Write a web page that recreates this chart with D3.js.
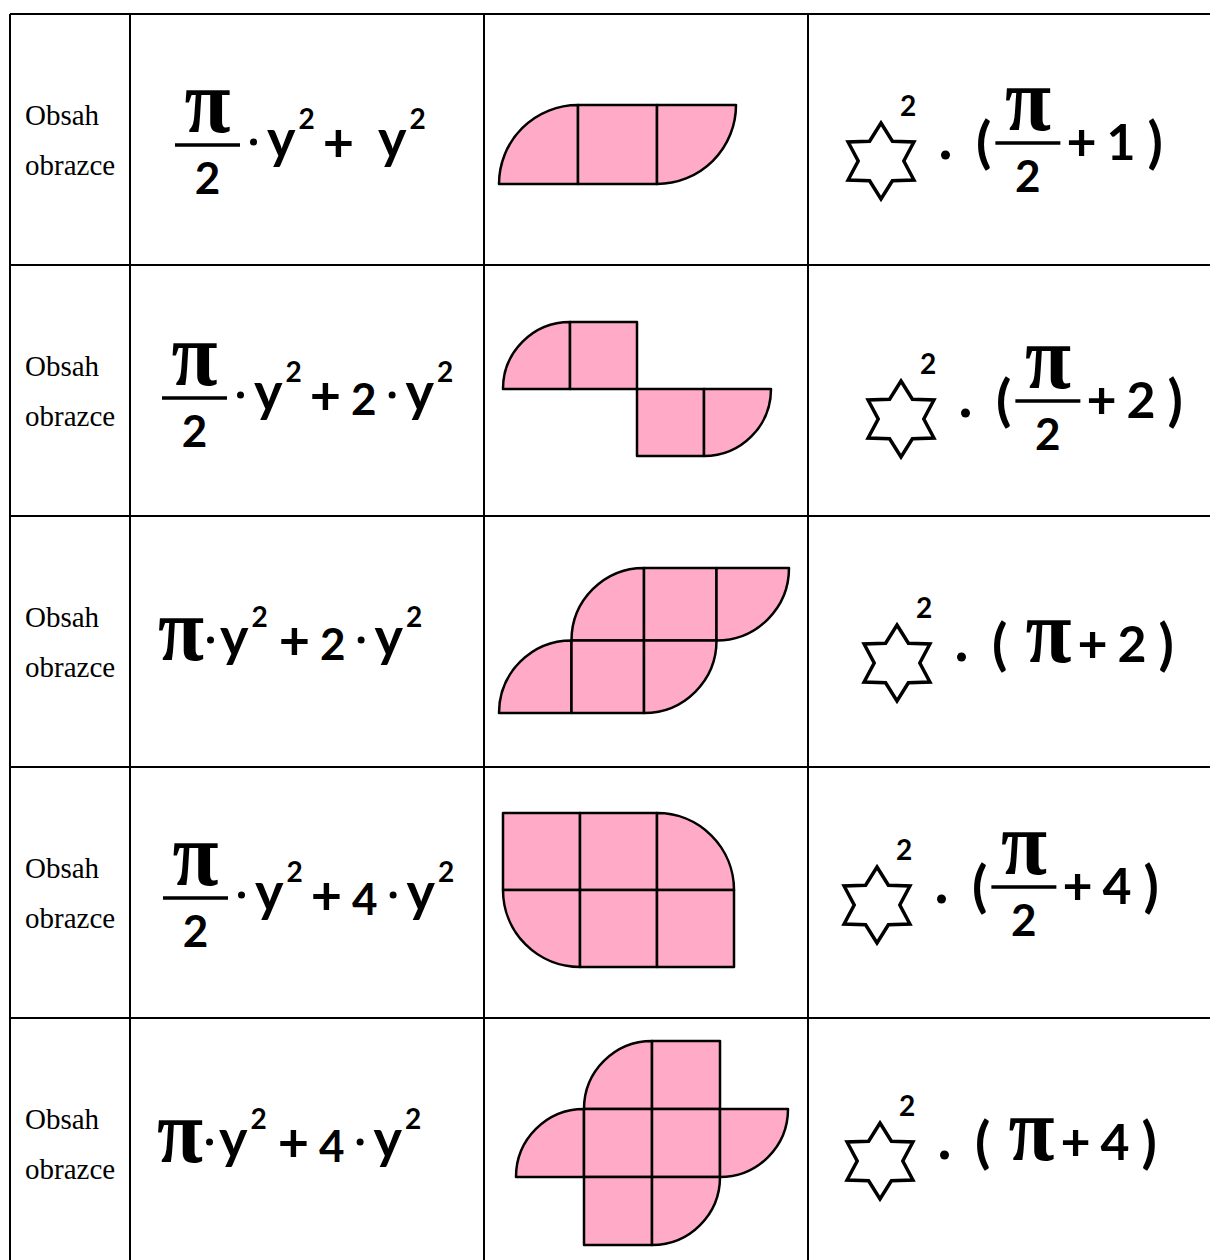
<!DOCTYPE html>
<html><head><meta charset="utf-8">
<script src="https://cdn.jsdelivr.net/npm/d3@7"></script>
<style>html,body{margin:0;padding:0;background:#fff;} svg{display:block}</style>
</head><body><svg id="c" width="1210" height="1260"></svg>
<script>
// ---------- data ----------
const rowLabels = [["Obsah","obrazce"],["Obsah","obrazce"],["Obsah","obrazce"],["Obsah","obrazce"],["Obsah","obrazce"]];
const areaFormulas = [
  ["π/2","·","y²","+","_","y²"],
  ["π/2","·","y²","+","2","·","y²"],
  ["π","·","y²","+","2","·","y²"],
  ["π/2","·","y²","+","4","·","y²"],
  ["π","·","y²","+","4","·","y²"]
];
const starFormulas = [
  ["☆²","•","(","π/2","+","1",")"],
  ["☆²","•","(","π/2","+","2",")"],
  ["☆²","•","(","π","+","2",")"],
  ["☆²","•","(","π/2","+","4",")"],
  ["☆²","•","(","π","+","4",")"]
];
// shape cells: [column, row, kind]  kind: sq = square, tl/tr/bl/br = quarter disc with arc at that corner
const shapeCells = [
  [[0,0,"tl"],[1,0,"sq"],[2,0,"br"]],
  [[0,0,"tl"],[1,0,"sq"],[2,1,"sq"],[3,1,"br"]],
  [[1,0,"tl"],[2,0,"sq"],[3,0,"br"],[0,1,"tl"],[1,1,"sq"],[2,1,"br"]],
  [[0,0,"sq"],[1,0,"sq"],[2,0,"tr"],[0,1,"bl"],[1,1,"sq"],[2,1,"sq"]],
  [[1,0,"tl"],[2,0,"sq"],[0,1,"tl"],[1,1,"sq"],[2,1,"sq"],[3,1,"br"],[1,2,"sq"],[2,2,"br"]]
];

// ---------- layout ----------
const svg = d3.select("#c");
const W = 1210, H = 1260;
const colEdges = [10,130,484,808];
const rowScale = d3.scaleLinear().domain([0,5]).range([14,1269]);
const PINK = "#ffabc8";
const SANS = "Lato, 'Open Sans', 'DejaVu Sans', sans-serif";
const SERIF = "'Liberation Serif', 'Times New Roman', serif";

// grid
const grid = svg.append("g").attr("stroke","#000").attr("stroke-width",2);
d3.range(5).forEach(i => grid.append("line").attr("x1",colEdges[0]).attr("x2",W)
  .attr("y1",rowScale(i)).attr("y2",rowScale(i)));
colEdges.forEach(x => grid.append("line").attr("x1",x).attr("x2",x).attr("y1",rowScale(0)).attr("y2",H));

// labels
rowLabels.forEach((lab,i) => {
  const top = rowScale(i);
  lab.forEach((s,j) => svg.append("text").attr("x",25).attr("y",top+111+j*50)
    .attr("font-family",SERIF).attr("font-size",29).attr("fill","#000").text(s));
});

// shapes
const shapeLayout = [{x:499,y:105,s:79},{x:503,y:322,s:67},{x:499,y:568,s:72.5},{x:503,y:813,s:77},{x:516,y:1041,s:68}];
function cellPath(x0,y0,s,kind){
  const x1=x0+s, y1=y0+s, p=d3.path();
  if(kind==="sq"){ p.rect(x0,y0,s,s); }
  else if(kind==="tl"){ p.moveTo(x1,y1); p.lineTo(x0,y1); p.arc(x1,y1,s,Math.PI,1.5*Math.PI); p.closePath(); }
  else if(kind==="br"){ p.moveTo(x0,y0); p.lineTo(x1,y0); p.arc(x0,y0,s,0,0.5*Math.PI); p.closePath(); }
  else if(kind==="tr"){ p.moveTo(x0,y1); p.lineTo(x0,y0); p.arc(x0,y1,s,1.5*Math.PI,2*Math.PI); p.closePath(); }
  else if(kind==="bl"){ p.moveTo(x1,y0); p.lineTo(x1,y1); p.arc(x1,y0,s,0.5*Math.PI,Math.PI); p.closePath(); }
  return p.toString();
}
shapeCells.forEach((cells,i) => {
  const L = shapeLayout[i];
  const sx = d3.scaleLinear().domain([0,1]).range([L.x,L.x+L.s]);
  const sy = d3.scaleLinear().domain([0,1]).range([L.y,L.y+L.s]);
  svg.append("g").selectAll("path").data(cells).join("path")
    .attr("d",d => cellPath(sx(d[0]),sy(d[1]),L.s,d[2]))
    .attr("fill",PINK).attr("stroke","#000").attr("stroke-width",2.5).attr("stroke-linejoin","round");
});

// ---------- formula engine ----------
function txt(g,s,x,y,size,fam,anchor){
  return g.append("text").attr("x",x).attr("y",y).attr("font-family",fam).attr("font-size",size)
    .attr("font-weight",700).attr("fill","#000").attr("text-anchor",anchor||"start").text(s);
}
function piGlyph(g,x,y,anchor){
  const t = g.append("text").attr("x",0).attr("y",0).attr("font-family",SERIF).attr("font-size",84)
    .attr("font-weight",700).attr("fill","#000")
    .attr("text-anchor",anchor||"start").attr("transform",`translate(${x},${y}) scale(1,1.08)`).text("π");
  return t.node().getComputedTextLength();
}
function star(g,cx,cy,R){
  const pts = d3.range(12).map(i => [i*Math.PI/6, i%2 ? R*0.6 : R]);
  g.append("path").attr("transform",`translate(${cx},${cy})`)
    .attr("d",d3.lineRadial().curve(d3.curveLinearClosed)(pts))
    .attr("fill","#fff").attr("stroke","#000").attr("stroke-width",3.5).attr("stroke-linejoin","miter");
}
function drawFormula(g,tokens,x,B,col){
  const pad = col===2
    ? {"π/2":[0,0],"π":[0,0],"·":[10,10],"y²":[0,6],"+":[2,8],"_":[0,0],"digit":[2,2],"(":[0,0],")":[0,0]}
    : {"π/2":[4,6],"π":[18,6],"•":[22,26],"+":[0,10],"digit":[0,12],"(":[0,0],")":[0,0],"☆²":[0,0]};
  let prev = null;
  tokens.forEach(t => {
    const key = /^[0-9]$/.test(t) ? "digit" : t;
    let [pb,pa] = pad[key] || [0,0];
    if(col===2 && t==="·" && prev==="π"){ pb = 3; pa = 6; }
    if(col===2 && t==="y²" && tokens[0]==="π"){ pa = 9; }
    x += pb;
    let w = 0;
    if(t==="π/2"){
      const barW = 65, barY = B-17;
      g.append("rect").attr("x",x).attr("y",barY-1.75).attr("width",barW).attr("height",3.5).attr("fill","#000");
      piGlyph(g,x+barW/2,barY-13,"middle");
      txt(g,"2",x+barW/2,barY+49,44,SANS,"middle");
      w = barW;
    } else if(t==="π"){
      w = piGlyph(g,x,B);
    } else if(t==="·"){
      g.append("circle").attr("cx",x+3.5).attr("cy",B-20).attr("r",3.5).attr("fill","#000"); w = 7;
    } else if(t==="•"){
      g.append("circle").attr("cx",x+4.5).attr("cy",B-5).attr("r",4.5).attr("fill","#000"); w = 9;
    } else if(t==="y²"){
      const wy = txt(g,"y",x,B-4,54,SANS).node().getComputedTextLength();
      const ws = txt(g,"2",x+wy+3,B-33,28,SANS).node().getComputedTextLength();
      w = wy+3+ws;
    } else if(t==="+"){
      w = txt(g,"+",x,B,col===2?54:52,SANS).node().getComputedTextLength();
    } else if(t==="_"){
      w = 16;
    } else if(t==="("||t===")"){
      w = txt(g,t,x,B+2,56,SANS).node().getComputedTextLength();
    } else if(t==="☆²"){
      const R = 38;
      star(g,x+R,B+1,R);
      txt(g,"2",x+R+19,B-44,28,SANS);
      w = 2*R;
    } else {
      w = txt(g,t,x,B,col===2?44:50,SANS).node().getComputedTextLength();
    }
    x += w + pa;
    prev = t;
  });
}
const areaLayout = [{x:175,B:162},{x:162,B:415},{x:158,B:660},{x:163,B:915},{x:157,B:1162}];
const starLayout = [{x:843,B:160},{x:863,B:418},{x:859,B:662},{x:839,B:904},{x:842,B:1160}];
areaFormulas.forEach((f,i) => drawFormula(svg.append("g"),f,areaLayout[i].x,areaLayout[i].B,2));
starFormulas.forEach((f,i) => drawFormula(svg.append("g"),f,starLayout[i].x,starLayout[i].B,3));
</script></body></html>
